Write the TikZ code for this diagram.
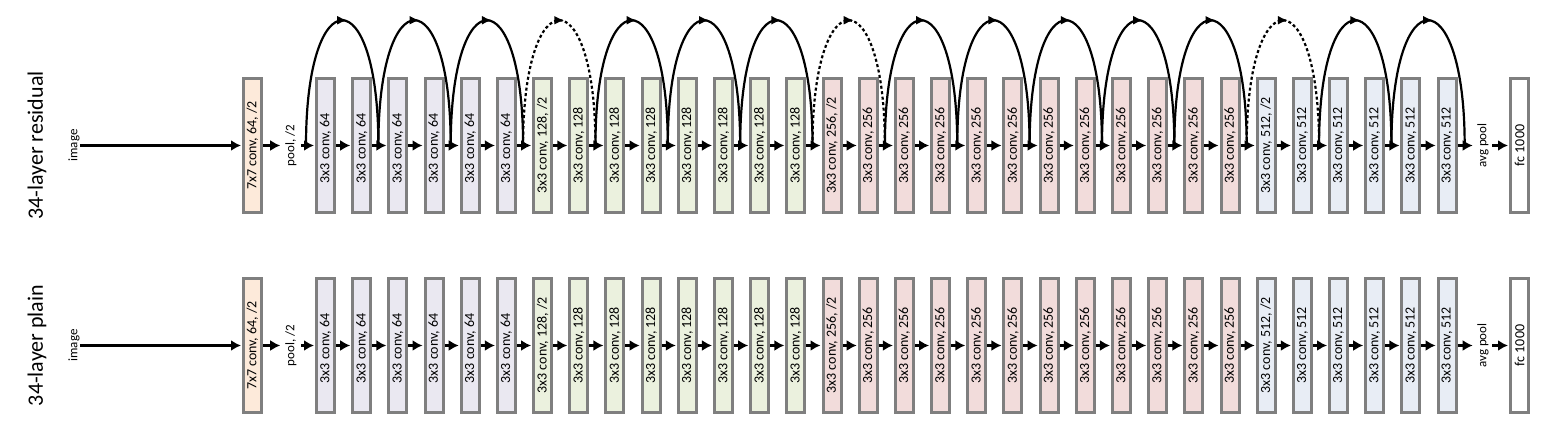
\documentclass[tikz,border=0pt]{standalone}
\usepackage{fontspec}
\setmainfont{Carlito}
\usepackage{graphicx}
\usetikzlibrary{arrows.meta,decorations.markings,calc}
\definecolor{bordergray}{HTML}{7F7F7F}
\definecolor{cpeach}{HTML}{FDEADA}
\definecolor{csixtyfour}{HTML}{EAE8F1}
\definecolor{conetwoeight}{HTML}{EBF1DE}
\definecolor{ctwofivesix}{HTML}{F2DCDB}
\definecolor{cfivetwelve}{HTML}{E8EDF5}
\begin{document}
\begin{tikzpicture}[x=1pt,y=1pt,
  layer/.style={draw=bordergray, line width=3pt, minimum width=18pt, minimum height=134pt, inner sep=0pt, font=\fontsize{14}{16}\selectfont},
  lbl/.style={inner sep=0pt, font=\fontsize{13}{15}\selectfont},
  rowtitle/.style={inner sep=0pt, font=\fontsize{22}{26}\selectfont},
  flow/.style={line width=3pt, -{Latex[length=10pt,width=11pt]}, shorten >=1pt},
  skiparc/.style={line width=2.2pt, postaction={decorate}, decoration={markings, mark=at position 0.5 with {\arrow[xshift=5pt]{Latex[length=10pt,width=9pt]}}}},
  proj/.style={skiparc, dash pattern=on 3pt off 2.5pt},
]
\useasboundingbox (0,0) rectangle (1562,444);

\foreach \r/\y/\ttl in {R/298.5/34-layer residual, P/98.5/34-layer plain}{
  \node[rowtitle] (\r-title) at (37,\y) {\rotatebox{90}{\ttl}};
  \node[lbl] (\r-img) at (74,\y) {\rotatebox{90}{image}};
  \node[layer, fill=cpeach] (\r-first) at (252.5,\y) {\rotatebox{90}{7x7 conv, 64, /2}};
  \node[lbl, inner xsep=4pt] (\r-pool) at (291,\y) {\rotatebox{90}{pool, /2}};
  \foreach \k in {0,...,31}{
    \def\pad{}
    \ifnum\k<6 \def\ch{64}\def\cc{csixtyfour}\def\pad{\hspace*{6pt}}\else
      \ifnum\k<14 \def\ch{128}\def\cc{conetwoeight}\else
        \ifnum\k<26 \def\ch{256}\def\cc{ctwofivesix}\else
          \def\ch{512}\def\cc{cfivetwelve}\fi\fi\fi
    \def\sfx{}
    \ifnum\k=6 \def\sfx{, /2}\fi
    \ifnum\k=14 \def\sfx{, /2}\fi
    \ifnum\k=26 \def\sfx{, /2}\fi
    \node[layer, fill=\cc] (\r-c\k) at ({325.5+36.18*\k},\y) {\rotatebox{90}{3x3 conv, \ch\sfx\pad}};
  }
  \node[lbl, inner xsep=3.5pt] (\r-avg) at (1483,\y) {\rotatebox{90}{avg pool}};
  \node[layer, fill=white] (\r-fc) at (1519.5,\y) {\rotatebox{90}{fc 1000}};

  \draw[flow, line width=3.5pt] (\r-img.east) -- (\r-first.west);
  \draw[flow] (\r-first.east) -- (\r-pool.west);
  \draw[flow] (\r-pool.east) -- (\r-c0.west);
  \foreach \k [evaluate=\k as \n using int(\k+1)] in {0,...,30}
    \draw[flow] (\r-c\k.east) -- (\r-c\n.west);
  \draw[flow] (\r-c31.east) -- (\r-avg.west);
  \draw[flow] (\r-avg.east) -- (\r-fc.west);
}

% shortcut connections (residual row only)
\foreach \k in {0,...,31}
  \coordinate (p\k) at ([xshift=-9pt]R-c\k.west);
\coordinate (p32) at ([xshift=-9pt]R-avg.west);

\foreach \i/\st in {0/skiparc,1/skiparc,2/skiparc,3/proj,4/skiparc,5/skiparc,6/skiparc,7/proj,8/skiparc,9/skiparc,10/skiparc,11/skiparc,12/skiparc,13/proj,14/skiparc,15/skiparc}{
  \pgfmathtruncatemacro\a{2*\i}
  \pgfmathtruncatemacro\b{2*\i+2}
  \draw[\st] (p\a) .. controls +(0,167) and +(0,167) .. (p\b);
}
\end{tikzpicture}
\end{document}
